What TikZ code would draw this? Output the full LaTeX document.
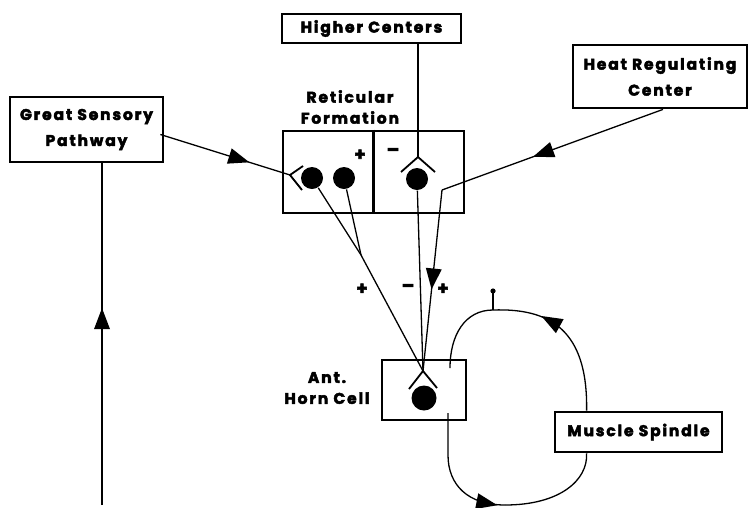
\documentclass[tikz,border=0pt]{standalone}
\usepackage{fontspec}
\newfontfamily\lblfont{Poppins}[LetterSpace=12, BoldFeatures={FakeBold=3}]
\usetikzlibrary{arrows.meta,decorations.markings,calc}
\begin{document}
\begin{tikzpicture}[x=1pt,y=-1pt, line width=1.3pt,
  box/.style={draw, line width=2.8pt, inner sep=0pt, align=center,
    font=\lblfont\bfseries\fontsize{15.5}{26}\selectfont},
  lbl/.style={inner sep=0pt, align=center, font=\lblfont\bfseries\fontsize{15.5}{21}\selectfont},
  sign/.style={inner sep=0pt, font=\lblfont\bfseries\fontsize{18}{18}\selectfont},
  cell/.style={fill, circle, inner sep=0pt, minimum size=22pt},
  recep/.style={line width=1.8pt},
  midarrow/.style={postaction={decorate}, decoration={markings,
    mark=at position #1 with {\fill (9pt,0pt) -- (-12pt,8pt) -- (-12pt,-8pt) -- cycle;}}},
]
\useasboundingbox (0,0) rectangle (749,507);

% boxes
\node[box, minimum width=179pt, minimum height=29pt] (hc) at (371.5,28.5) {Higher Centers};
\node[box, minimum width=153pt, minimum height=65pt] (gsp) at (86.5,129.5) {Great Sensory\\Pathway};
\node[box, minimum width=174pt, minimum height=63pt] (hrc) at (660,76.5) {Heat Regulating\\Center};
\node[box, minimum width=181pt, minimum height=82pt] (rf) at (373.5,172) {};
\node[box, minimum width=84pt, minimum height=60pt] (ahc) at (424,390) {};
\node[box, minimum width=167pt, minimum height=40pt] (ms) at (638.5,432) {Muscle Spindle};
\draw[line width=2.8pt] (rf.north) -- (rf.south);

% labels
\node[lbl] (rflbl) at (350,107) {Reticular\\Formation};
\node[lbl] (ahclbl) at (327,388) {Ant.\\Horn Cell};
\node[sign] (p1) at (360,155) {+};
\node[sign] (m1) at (393,152) {–};
\node[sign] (p2) at (362,289) {+};
\node[sign] (m2) at (408,288) {–};
\node[sign] (p3) at (443,289) {+};

% cells
\node[cell] (c1) at (312,178) {};
\node[cell] (c2) at (344,178) {};
\node[cell] (c3) at (417,179) {};
\node[cell, minimum size=25pt] (c4) at (424,398) {};

% receptor chevrons
\coordinate (v1) at (290,175);
\coordinate (v3) at (418,157);
\coordinate (v4) at (423,371);
\draw[recep] (303,166) -- (v1) -- (302,190);
\draw[recep] (401,172) -- (v3) -- (435,172);
\draw[recep] (409,389) -- (v4) -- (437,388);

% afferent pathways
\coordinate (gspin) at (102,505);
\draw[midarrow=0.55] (gspin) -- (gspin |- gsp.south);
\draw[midarrow=0.62] ($(gsp.east)+(-4,5)$) -- (v1);
\draw (hc.south -| v3) -- (v3);
\coordinate (hk) at (442,190);
\draw[midarrow=0.55] ($(hrc.south)+(3,0)$) -- (hk);
\draw[midarrow=0.5] (hk) -- (v4);

% efferent to anterior horn cell
\coordinate (mg) at (361,255);
\draw (c1) -- (mg);
\draw (c2) -- (mg);
\draw (mg) -- (v4);
\draw (c3) -- (v4);

% gamma loop
\coordinate (msT) at ($(ms.north west)+(33,0)$);
\coordinate (msB) at ($(ms.south west)+(33,0)$);
\coordinate (top) at (493,310);
\coordinate (ahT) at (450,368);
\coordinate (ahB) at (448,413);
\draw[midarrow=0.64] (msT) .. controls (588,330) and (550,308) .. (top);
\draw (top) .. controls (465,310) and (450,335) .. (ahT);
\coordinate (pin) at (493,291);
\draw (top) -- (pin);
\fill (pin) circle (2.6pt);
\draw[midarrow=0.87] (ahB) -- (448,455) .. controls (448,485) and (468,505) .. (505,505);
\draw (505,505) .. controls (560,505) and (588,480) .. (msB);
\end{tikzpicture}
\end{document}
